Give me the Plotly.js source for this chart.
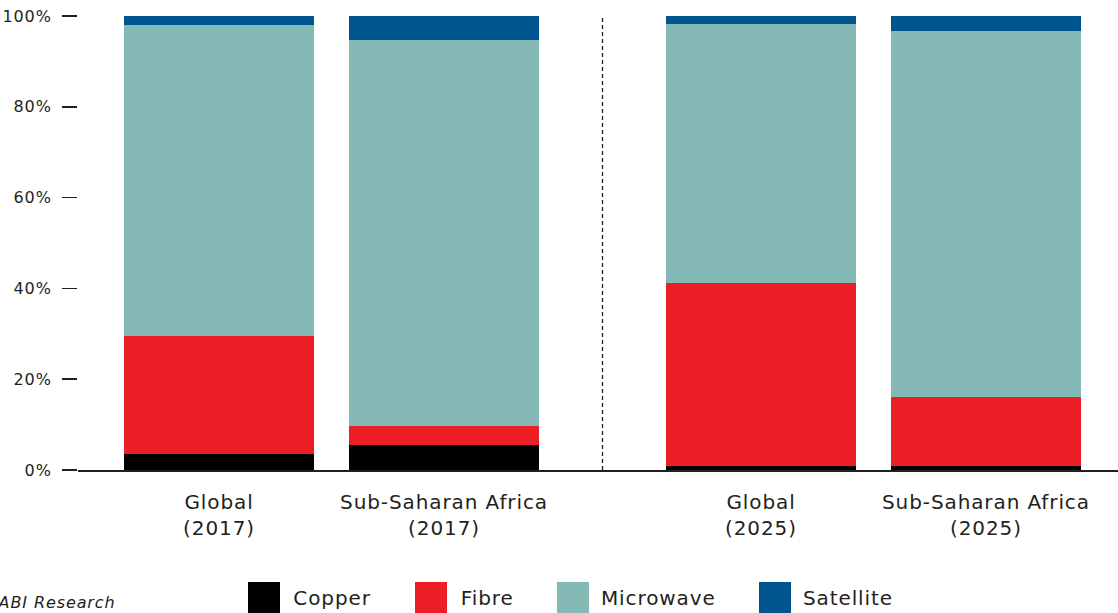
<!DOCTYPE html>
<html>
<head>
<meta charset="utf-8">
<script src="https://cdn.plot.ly/plotly-3.0.1.min.js"></script>
<style>
html,body{margin:0;padding:0;background:#fff;}
#chart{width:1118px;height:613px;}
#chart text{letter-spacing:0.9px;}
</style>
</head>
<body>
<div id="chart"></div>
<script>
// ---- data ----
const categories = ["Global<br>(2017)", "Sub-Saharan Africa<br>(2017)", "Global<br>(2025)", "Sub-Saharan Africa<br>(2025)"];
const seriesNames = ["Copper", "Fibre", "Microwave", "Satellite"];
const copper    = [3.5, 5.5, 0.9, 0.9];
const fibre     = [26.0, 4.2, 40.3, 15.2];
const microwave = [68.6, 85.1, 57.1, 80.7];
const satellite = [1.9, 5.2, 1.7, 3.2];
const yTicks = [0, 20, 40, 60, 80, 100];
const sourceText = "ABI Research";

// ---- layout helpers ----
const W = 1118, H = 613;
const plotL = 78, plotR = 1118, plotT = 16, plotB = 470;
const px2x = p => (p - plotL) / (plotR - plotL);
const px2y = p => (plotB - p) / (plotB - plotT);
const groupGap = 0.409;
const xPos = categories.map((c, i) => i + (i >= 2 ? groupGap : 0));
const colors = ["#000000", "#ED1F26", "#85B9B6", "#00558F"];
const font = "Gotham, 'DejaVu Sans', sans-serif";
const textColor = "#231F20";

const values = [copper, fibre, microwave, satellite];
const traces = seriesNames.map((n, k) => ({
  type: "bar", name: n, x: xPos, y: values[k], width: 0.844,
  marker: {color: colors[k], line: {width: 0}}, showlegend: false,
  hoverinfo: "name+y"
}));

const shapes = [{
  type: "line", xref: "x", yref: "paper",
  x0: (xPos[1] + xPos[2]) / 2, x1: (xPos[1] + xPos[2]) / 2, y0: 0, y1: 1,
  line: {color: textColor, width: 1.3, dash: "4px,3px"}
}];
const annotations = [{
  xref: "paper", yref: "paper", x: px2x(1), y: px2y(602), xanchor: "left", yanchor: "middle",
  text: "<i>" + sourceText + "</i>", showarrow: false, font: {family: font, size: 16, color: textColor}
}];
const legendX = [248, 415, 557, 759];
seriesNames.forEach((n, k) => {
  shapes.push({type: "rect", xref: "paper", yref: "paper",
    x0: px2x(legendX[k]), x1: px2x(legendX[k] + 32), y0: px2y(582), y1: px2y(614),
    fillcolor: colors[k], line: {width: 0}});
  annotations.push({xref: "paper", yref: "paper", x: px2x(legendX[k] + 46), y: px2y(598),
    xanchor: "left", yanchor: "middle", text: n, showarrow: false,
    font: {family: font, size: 20, color: textColor}});
});

const layout = {
  width: W, height: H,
  margin: {l: plotL, r: W - plotR, t: plotT, b: H - plotB, pad: 0},
  paper_bgcolor: "#fff", plot_bgcolor: "#fff",
  barmode: "stack", bargap: 0,
  showlegend: false,
  font: {family: font, color: textColor},
  xaxis: {
    range: [-0.627, 3.996], tickvals: xPos, ticktext: categories,
    showgrid: false, zeroline: false, showline: true, linecolor: textColor, linewidth: 1.5,
    ticks: "", tickfont: {size: 20, color: textColor}, ticklabelstandoff: 13, fixedrange: true
  },
  yaxis: {
    range: [0, 100], tickvals: yTicks, ticktext: yTicks.map(v => v + "%"),
    showgrid: false, zeroline: false, showline: false,
    ticks: "outside", ticklen: 15, tickwidth: 1.5, tickcolor: textColor,
    tickfont: {size: 16, color: textColor}, ticklabelstandoff: 7, fixedrange: true
  },
  shapes: shapes, annotations: annotations
};
Plotly.newPlot("chart", traces, layout, {displayModeBar: false, staticPlot: true});
</script>
</body>
</html>
